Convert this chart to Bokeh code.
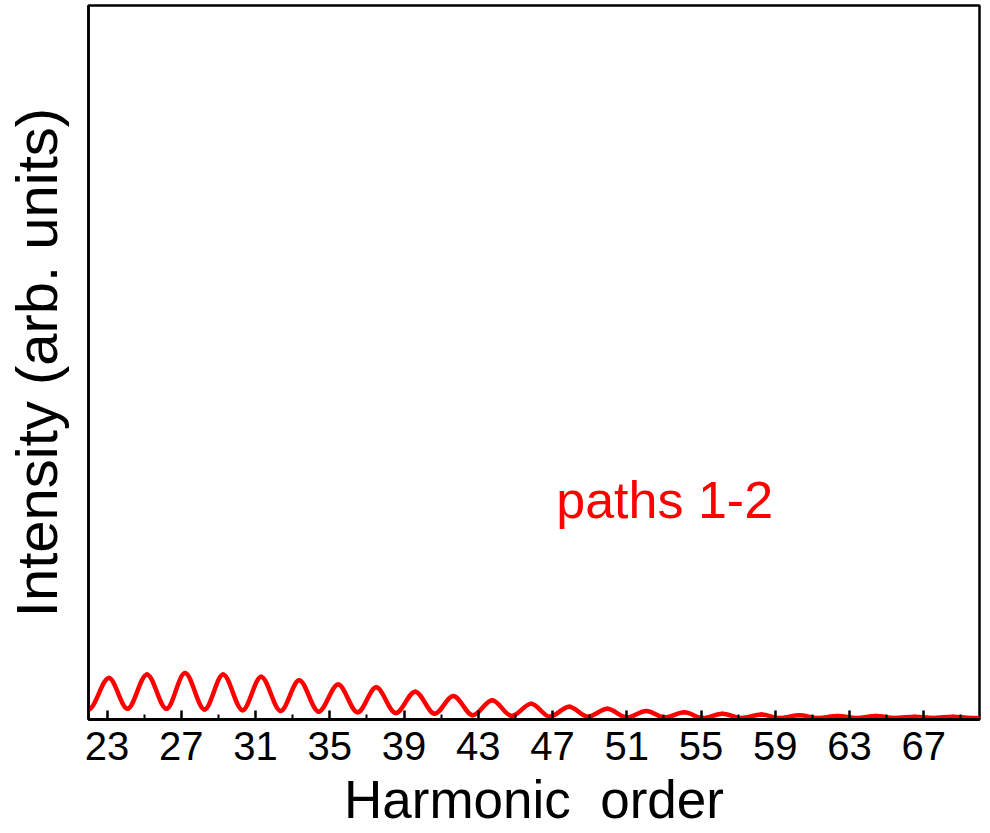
from bokeh.plotting import figure
from bokeh.models import FixedTicker, Range1d, Label, ColumnDataSource
from bokeh.embed import file_html
from bokeh.resources import INLINE

# Extrema (alternating troughs / peaks) of the "paths 1-2" spectrum
ext_harmonic = [22.0, 23.1, 24.1, 25.15, 26.2, 27.2, 28.25, 29.25, 30.3, 31.3, 32.35, 33.35,
                34.4, 35.45, 36.5, 37.5, 38.55, 39.6, 40.65, 41.65, 42.7, 43.75, 44.8, 45.85,
                46.85, 47.9, 48.9, 49.95, 51.0, 52.05, 53.05, 54.1, 55.1, 56.15, 57.2, 58.25,
                59.25, 60.3, 61.3, 62.35, 63.4, 64.4, 65.45, 66.5, 67.5, 68.55, 69.55, 70.0]
ext_intensity = [0.014, 0.058, 0.015, 0.063, 0.015, 0.065, 0.014, 0.063, 0.013, 0.060, 0.012, 0.055,
                 0.011, 0.049, 0.010, 0.045, 0.009, 0.039, 0.008, 0.033, 0.006, 0.027, 0.005, 0.022,
                 0.004, 0.018, 0.004, 0.015, 0.003, 0.012, 0.003, 0.010, 0.002, 0.008, 0.002, 0.007,
                 0.002, 0.006, 0.002, 0.005, 0.002, 0.005, 0.002, 0.004, 0.002, 0.004, 0.002, 0.002]

major_ticks = [23, 27, 31, 35, 39, 43, 47, 51, 55, 59, 63, 67]
minor_ticks = [25, 29, 33, 37, 41, 45, 49, 53, 57, 61, 65, 69]

FONT = "Liberation Sans"

p = figure(width=990, height=833, x_range=Range1d(22, 70), y_range=Range1d(0, 1),
           output_backend="svg", toolbar_location=None,
           min_border_left=88, min_border_right=11, min_border_top=5, min_border_bottom=114)
p.xgrid.visible = False
p.ygrid.visible = False
p.background_fill_color = "white"
p.border_fill_color = "white"
p.outline_line_color = "black"
p.outline_line_width = 2.5
p.outline_line_alpha = 1

# smooth curve through the extrema with horizontal tangents (cubic Bezier segments)
x0 = ext_harmonic[:-1]
x1 = ext_harmonic[1:]
y0 = ext_intensity[:-1]
y1 = ext_intensity[1:]
cx0 = [a + (b - a) / 3 for a, b in zip(x0, x1)]
cx1 = [b - (b - a) / 3 for a, b in zip(x0, x1)]
src = ColumnDataSource(dict(x0=x0, y0=y0, x1=x1, y1=y1, cx0=cx0, cy0=y0, cx1=cx1, cy1=y1))
p.bezier(x0="x0", y0="y0", x1="x1", y1="y1", cx0="cx0", cy0="cy0", cx1="cx1", cy1="cy1",
         source=src, line_color="#ff0000", line_width=4.5, line_cap="round")

xa = p.xaxis[0]
xa.ticker = FixedTicker(ticks=major_ticks, minor_ticks=minor_ticks)
xa.major_tick_in = 9
xa.major_tick_out = 0
xa.minor_tick_in = 5
xa.minor_tick_out = 0
xa.major_tick_line_width = 2.5
xa.minor_tick_line_width = 2
xa.axis_line_width = 3
xa.major_label_text_font = FONT
xa.major_label_text_font_size = "40px"
xa.major_label_text_color = "black"
xa.major_label_standoff = 12
xa.axis_label = "Harmonic\u00a0 order"
xa.axis_label_text_font = FONT
xa.axis_label_text_font_size = "53px"
xa.axis_label_text_font_style = "normal"
xa.axis_label_text_color = "black"
xa.axis_label_standoff = 7

ya = p.yaxis[0]
ya.ticker = FixedTicker(ticks=[])
ya.major_tick_line_color = None
ya.minor_tick_line_color = None
ya.major_label_text_font_size = "0px"
ya.axis_line_width = 2.5
ya.axis_label = "Intensity (arb. units)"
ya.axis_label_text_font = FONT
ya.axis_label_text_font_size = "58px"
ya.axis_label_text_font_style = "normal"
ya.axis_label_text_color = "black"
ya.axis_label_standoff = 20

p.add_layout(Label(x=47.2, y=0.308, text="paths 1-2", text_font=FONT, text_font_size="52px",
                   text_color="#ff0000", text_baseline="alphabetic", text_align="left"))

open("out.html", "w").write(file_html(p, INLINE))
